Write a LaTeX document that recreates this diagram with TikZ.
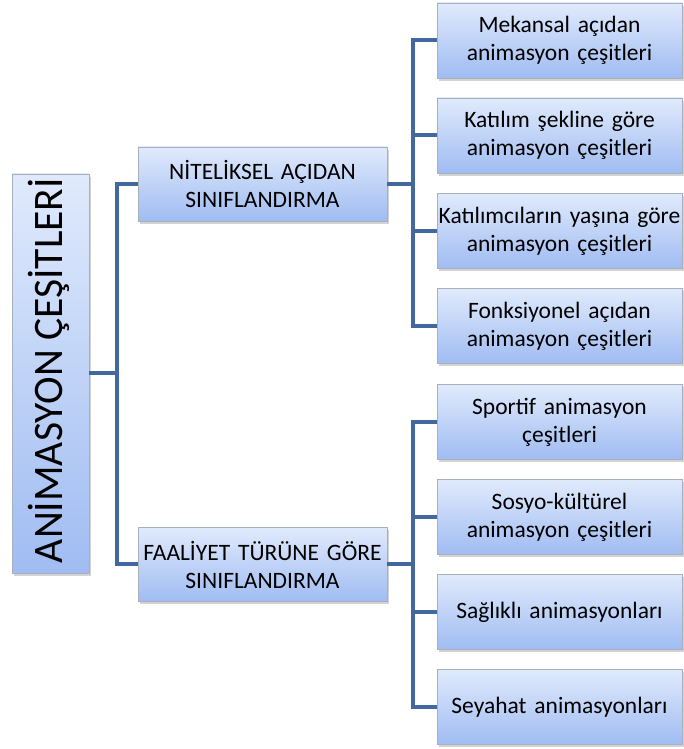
\documentclass[tikz,border=0pt]{standalone}
\usepackage{fontspec}
\setmainfont{Carlito}
\usetikzlibrary{shadows}
\definecolor{cizgi}{RGB}{66,104,158}
\definecolor{kenar}{RGB}{168,176,190}
\definecolor{acik}{RGB}{224,234,252}
\definecolor{koyu}{RGB}{160,188,242}

\begin{document}
\begin{tikzpicture}[
        x=1pt,y=1pt
        ,kutu/.style={draw=kenar,line width=0.8pt,top color=acik,bottom color=koyu,
            drop shadow={shadow xshift=2pt,shadow yshift=-3pt,opacity=0.35},
            inner sep=0pt,align=center,font=\fontsize{23.5}{28}\selectfont}
        ,yaprak/.style={kutu,minimum width=245pt,minimum height=75pt,text width=245pt}
        ,orta/.style={kutu,minimum width=249pt,minimum height=74pt,text width=249pt}
        ,hat/.style={draw=cizgi,line width=4pt}
    ]
    \useasboundingbox (0,0) rectangle (683,749);
    % Ana kutu
    \node[kutu,minimum width=77pt,minimum height=399pt] (root) at (50.5,375.5) {};
    \node[rotate=90,anchor=base,inner sep=0pt] (rootlbl) at (62,378.5)
        {\resizebox{385pt}{\height}{\fontsize{42}{42}\selectfont ANİMASYON ÇEŞİTLERİ}};
    % Ikinci seviye
    \node[orta] (A) at (262.5,565) {NİTELİKSEL AÇIDAN\\SINIFLANDIRMA};
    \node[orta] (B) at (262.5,184.5) {FAALİYET TÜRÜNE GÖRE\\SINIFLANDIRMA};
    % Yapraklar
    \node[yaprak] (A1) at (559.5,708.5) {Mekansal açıdan\\animasyon çeşitleri};
    \node[yaprak] (A2) at (559.5,613.5) {Katılım şekline göre\\animasyon çeşitleri};
    \node[yaprak] (A3) at (559.5,518) {Katılımcıların yaşına göre\\animasyon çeşitleri};
    \node[yaprak] (A4) at (559.5,423) {Fonksiyonel açıdan\\animasyon çeşitleri};
    \node[yaprak] (B1) at (559.5,327) {Sportif animasyon\\çeşitleri};
    \node[yaprak] (B2) at (559.5,232) {Sosyo-kültürel\\animasyon çeşitleri};
    \node[yaprak] (B3) at (559.5,137) {Sağlıklı animasyonları};
    \node[yaprak] (B4) at (559.5,42) {Seyahat animasyonları};
    % Baglantilar
    \coordinate (R) at ([xshift=28pt]root.east);
    \coordinate (P) at ([xshift=26pt]A.east);
    \coordinate (Q) at ([xshift=26pt]B.east);
    \draw[hat] (root.east) -- (R);
    \draw[hat] (R) |- (A.west);
    \draw[hat] (R) |- (B.west);
    \draw[hat] (A.east) -- (P);
    \draw[hat] (B.east) -- (Q);
    \foreach \i in {1,...,4} {
        \draw[hat] (P) |- (A\i.west);
        \draw[hat] (Q) |- (B\i.west);
    }
\end{tikzpicture}
\end{document}
